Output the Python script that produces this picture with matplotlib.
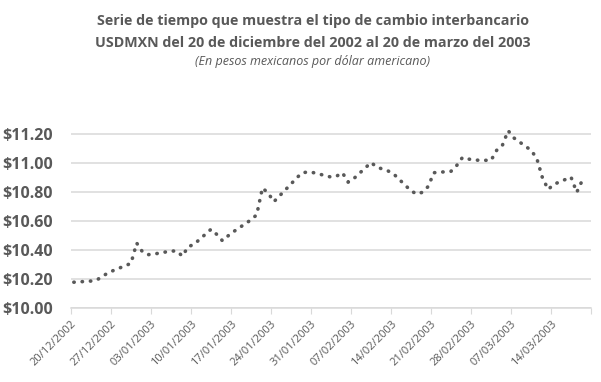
import matplotlib.pyplot as plt
import matplotlib.dates as mdates
import numpy as np
import pandas as pd

# Tipo de cambio USDMXN (dias habiles)
fechas = ['20/12/2002', '23/12/2002', '24/12/2002', '26/12/2002', '27/12/2002',
          '30/12/2002', '31/12/2002', '01/01/2003', '02/01/2003', '03/01/2003',
          '06/01/2003', '07/01/2003', '08/01/2003', '09/01/2003', '10/01/2003',
          '13/01/2003', '14/01/2003', '15/01/2003', '16/01/2003', '17/01/2003',
          '20/01/2003', '21/01/2003', '22/01/2003', '23/01/2003', '24/01/2003',
          '27/01/2003', '28/01/2003', '29/01/2003', '30/01/2003', '31/01/2003',
          '03/02/2003', '04/02/2003', '05/02/2003', '06/02/2003', '07/02/2003',
          '10/02/2003', '11/02/2003', '12/02/2003', '13/02/2003', '14/02/2003',
          '17/02/2003', '18/02/2003', '19/02/2003', '20/02/2003', '21/02/2003',
          '24/02/2003', '25/02/2003', '26/02/2003', '27/02/2003', '28/02/2003',
          '03/03/2003', '04/03/2003', '05/03/2003', '06/03/2003', '07/03/2003',
          '10/03/2003', '11/03/2003', '12/03/2003', '13/03/2003', '14/03/2003',
          '17/03/2003', '18/03/2003', '19/03/2003']
tipo_cambio = [10.180, 10.188, 10.195, 10.245, 10.262,
               10.310, 10.450, 10.390, 10.370, 10.374,
               10.395, 10.395, 10.360, 10.425, 10.440,
               10.545, 10.510, 10.466, 10.500, 10.530,
               10.610, 10.645, 10.830, 10.795, 10.735,
               10.857, 10.900, 10.935, 10.940, 10.935,
               10.905, 10.912, 10.935, 10.870, 10.895,
               11.005, 10.975, 10.960, 10.947, 10.925,
               10.810, 10.788, 10.800, 10.840, 10.935,
               10.945, 10.985, 11.040, 11.030, 11.022,
               11.020, 11.090, 11.125, 11.225, 11.175,
               11.090, 11.035, 10.900, 10.820, 10.855,
               10.905, 10.800, 10.885]
y_ticks = [10.00, 10.20, 10.40, 10.60, 10.80, 11.00, 11.20]

gris = '#595959'
plt.rcParams['font.family'] = ['Open Sans', 'DejaVu Sans']

fechas = pd.to_datetime(fechas, format='%d/%m/%Y')
inicio = pd.Timestamp('2002-12-20')
fin = pd.Timestamp('2003-03-21')
# cada dia ocupa una ranura, el punto va al centro
x = mdates.date2num(fechas) + 0.5

fig = plt.figure(figsize=(6.01, 3.82), dpi=100)
ax = fig.add_axes([0.1181, 0.1929, 0.8653, 0.4935])

ax.plot(x, tipo_cambio, color=gris, linewidth=2.6, linestyle=(0, (0.1, 2.2)),
        dash_capstyle='round', zorder=3)

ax.set_xlim(mdates.date2num(inicio), mdates.date2num(fin))
ax.set_ylim(10.0, 11.3)

ticks_x = pd.date_range(inicio, fin, freq='7D')
ax.set_xticks(mdates.date2num(ticks_x))
etiquetas = [d.strftime('%d/%m/%Y') for d in ticks_x]
etiquetas[-1] = ''
ax.set_xticklabels(etiquetas, rotation=45, ha='right', rotation_mode='anchor',
                   fontsize=8, color=gris)

ax.set_yticks(y_ticks)
ax.set_yticklabels(['${:.2f}'.format(v) for v in y_ticks], fontsize=11.5,
                   fontweight='bold', color=gris)

ax.grid(axis='y', color='#d9d9d9', linewidth=1.1)
ax.set_axisbelow(True)
for s in ['top', 'right', 'left']:
    ax.spines[s].set_visible(False)
ax.spines['bottom'].set_color('#d9d9d9')
ax.spines['bottom'].set_linewidth(1.1)
ax.tick_params(axis='x', length=4, color='#d9d9d9', pad=3)
ax.tick_params(axis='y', length=0, pad=13)

fig.text(0.52, 0.945, 'Serie de tiempo que muestra el tipo de cambio interbancario',
         ha='center', va='center', fontsize=10.3, fontweight='bold', color=gris)
fig.text(0.52, 0.888, 'USDMXN del 20 de diciembre del 2002 al 20 de marzo del 2003',
         ha='center', va='center', fontsize=10.3, fontweight='bold', color=gris)
fig.text(0.52, 0.84, '(En pesos mexicanos por dólar americano)',
         ha='center', va='center', fontsize=9, style='italic', color=gris)

fig.savefig('out.png', dpi=100)
